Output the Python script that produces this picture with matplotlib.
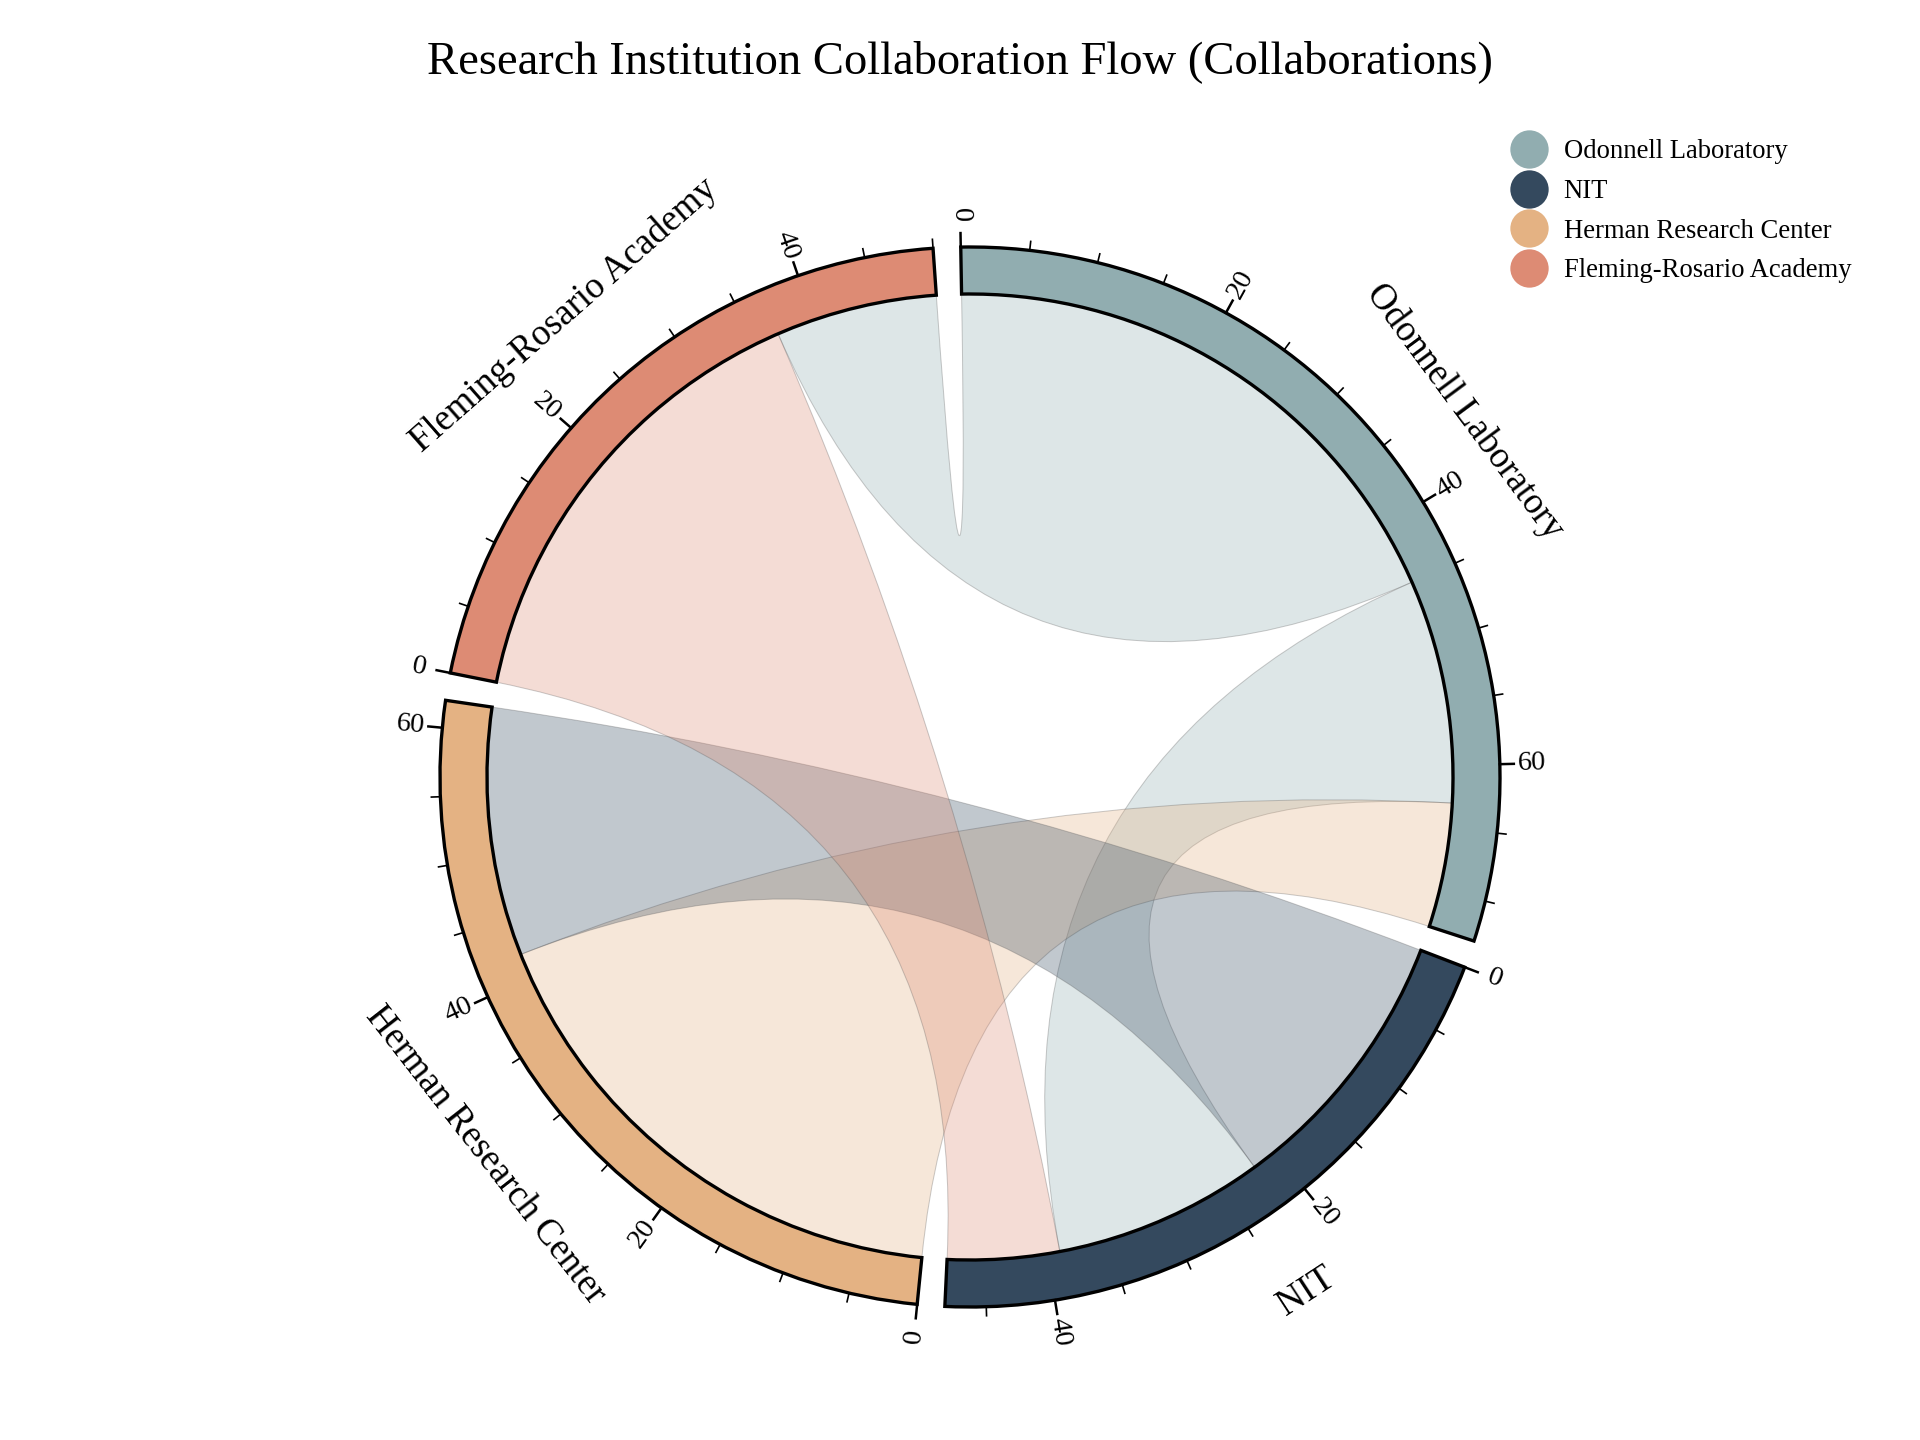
import numpy as np
import matplotlib
matplotlib.use('Agg')
import matplotlib.pyplot as plt
from matplotlib.patches import Wedge, PathPatch
from matplotlib.path import Path
from matplotlib.lines import Line2D

plt.rcParams['font.family'] = ['Liberation Serif', 'DejaVu Serif']

names = ['Odonnell Laboratory', 'NIT', 'Herman Research Center', 'Fleming-Rosario Academy']
colors = ['#91adb0', '#34495e', '#e4b283', '#dd8b74']
# outgoing segments per group, in clockwise order: (target index, value)
segments = [
    [(3, 45), (1, 18), (2, 10)],
    [(2, 22), (0, 17), (3, 9)],
    [(0, 42), (1, 20)],
    [(1, 37), (0, 13)],
]

totals = [sum(v for _, v in s) for s in segments]
gap = 3.0
deg_per = (360 - gap * len(names)) / sum(totals)

fig = plt.figure(figsize=(16, 12), dpi=120)
ax = fig.add_axes([0, 0, 1, 1])
ax.set_xlim(-970, 950)
ax.set_ylim(-663, 777)
ax.axis('off')

R_out, R_in = 530, 483

def pt(theta, r):
    a = np.radians(theta)
    return np.array([r * np.cos(a), r * np.sin(a)])

# group start angles (clockwise from top)
starts = []
a = 90 + gap / 2 - 0.5
for t in totals:
    starts.append(a)
    a -= t * deg_per + gap

# segment angle ranges
seg_ang = {}
for i, segs in enumerate(segments):
    cur = starts[i]
    for j, v in segs:
        seg_ang[(i, j)] = (cur, cur - v * deg_per, v)
        cur -= v * deg_per

def arc_pts(t1, t2, r, n=40):
    return [pt(t, r) for t in np.linspace(t1, t2, n)]

# chords
done = set()
for (i, j), (a1, a2, v1) in seg_ang.items():
    if (j, i) in done:
        continue
    done.add((i, j))
    b1, b2, v2 = seg_ang[(j, i)]
    col = colors[i] if v1 >= v2 else colors[j]
    verts, codes = [], []
    p = arc_pts(a1, a2, R_in)
    verts += p; codes += [Path.MOVETO] + [Path.LINETO] * (len(p) - 1)
    verts += [np.array([0, 0]), pt(b1, R_in)]; codes += [Path.CURVE3] * 2
    p = arc_pts(b1, b2, R_in)
    verts += p[1:]; codes += [Path.LINETO] * (len(p) - 1)
    verts += [np.array([0, 0]), pt(a1, R_in)]; codes += [Path.CURVE3] * 2
    ax.add_patch(PathPatch(Path(verts, codes), facecolor=col, alpha=0.3,
                           edgecolor='#555555', lw=0.6, zorder=2))

def norm_rot(r):
    r = (r + 180) % 360 - 180
    if r > 90:
        r -= 180
    if r < -90:
        r += 180
    return r

# group arcs, ticks, labels
for i, name in enumerate(names):
    s = starts[i]
    e = s - totals[i] * deg_per
    ax.add_patch(Wedge((0, 0), R_out, e, s, width=R_out - R_in,
                       facecolor=colors[i], edgecolor='black', lw=2, zorder=3))
    for k in range(0, totals[i] + 1, 5):
        th = s - k * deg_per
        major = k % 20 == 0
        p1, p2 = pt(th, R_out), pt(th, R_out + (14 if major else 9))
        ax.plot([p1[0], p2[0]], [p1[1], p2[1]], color='black', lw=1.5 if major else 1, zorder=3)
        if major:
            tp = pt(th, R_out + 32)
            ax.text(tp[0], tp[1], str(k), rotation=norm_rot(th), ha='center', va='center',
                    fontsize=17, zorder=4)
    mid = (s + e) / 2
    lp = pt(mid, R_out + 85)
    ax.text(lp[0], lp[1], name, rotation=norm_rot(mid - 90), ha='center', va='center',
            fontsize=22, zorder=4)

ax.text(-10, 715, 'Research Institution Collaboration Flow (Collaborations)',
        ha='center', va='center', fontsize=28)

handles = [Line2D([], [], marker='o', ls='', markersize=22, color=c) for c in colors]
fig.legend(handles, names, loc='upper left', bbox_to_anchor=(0.77, 0.92), frameon=False,
           fontsize=16, handletextpad=0.3, labelspacing=0.55)

fig.savefig('out.png', dpi=120)
